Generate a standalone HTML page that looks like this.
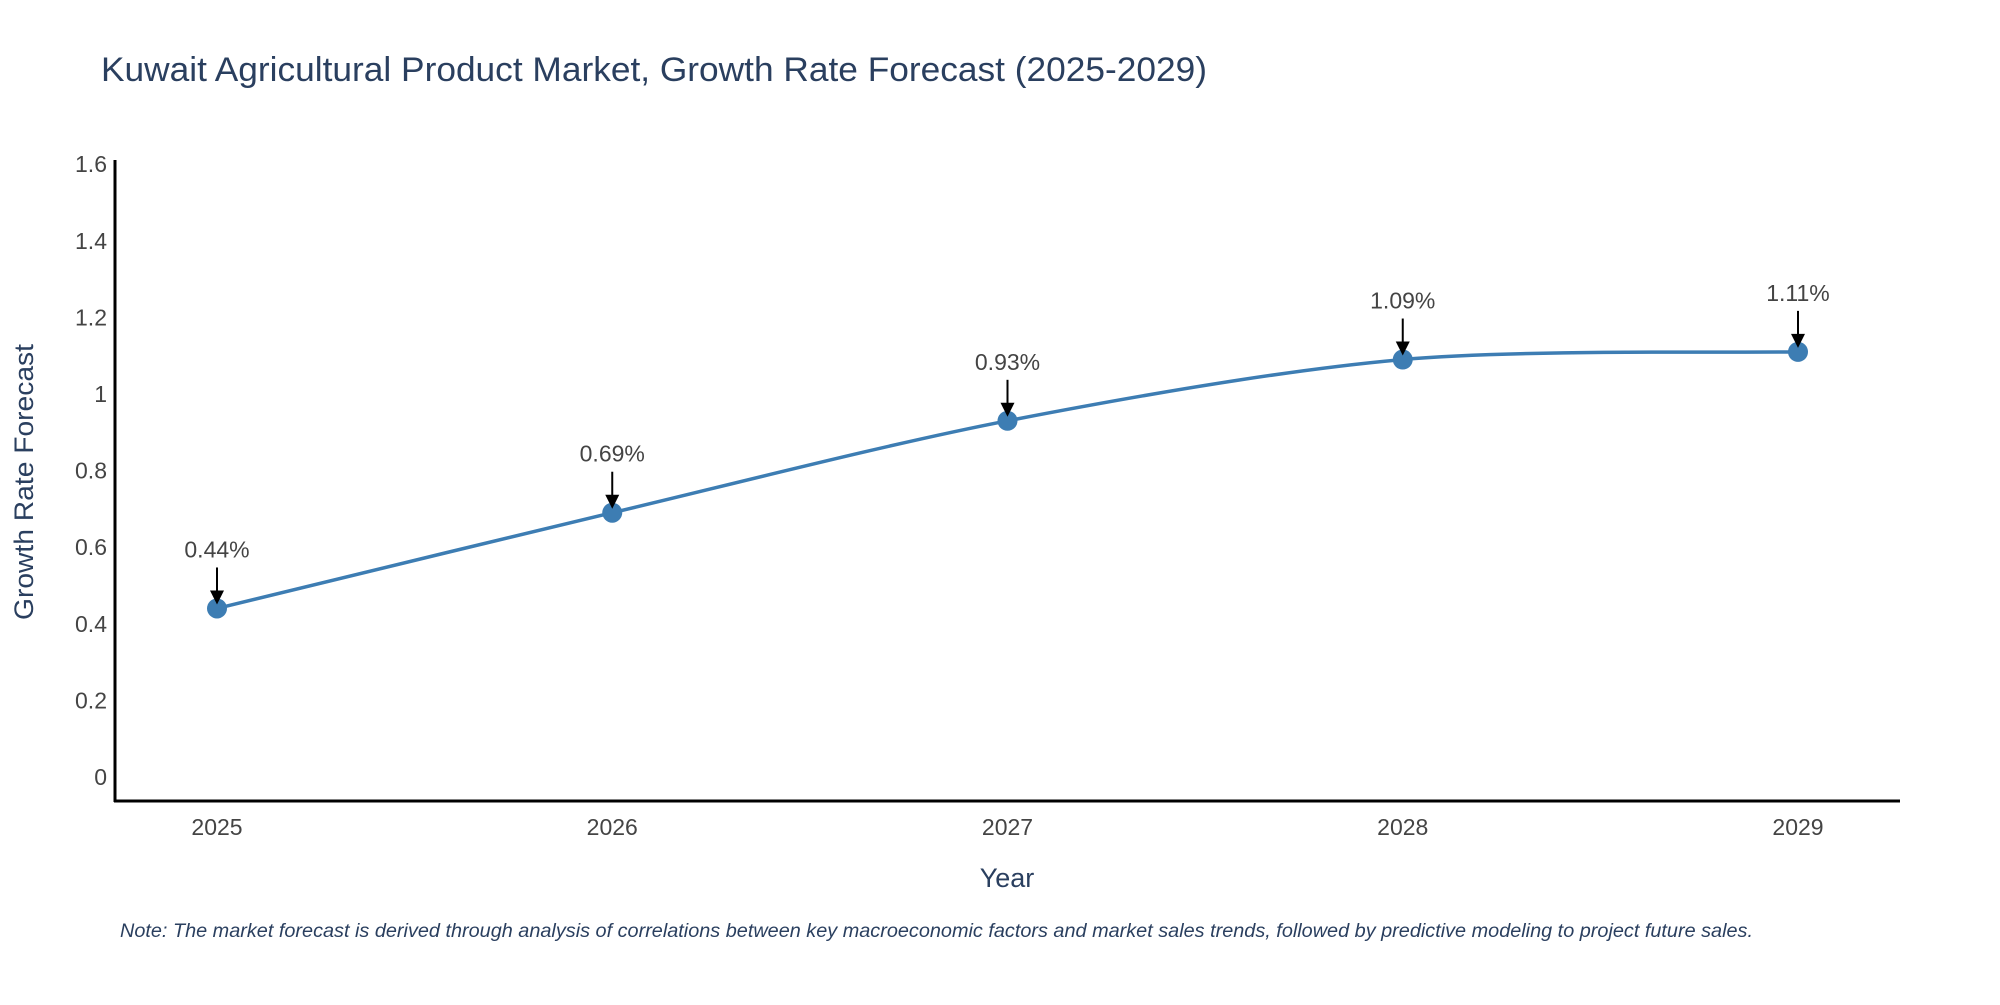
<!DOCTYPE html>
<html><head><meta charset="utf-8"><style>
body{margin:0;background:#fff;}
svg text{font-family:"Liberation Sans","DejaVu Sans",sans-serif;}
</style></head><body>
<svg width="2000" height="1000" viewBox="0 0 2000 1000" xmlns="http://www.w3.org/2000/svg">
<text x="101" y="81" font-size="34" fill="#2a3f5f" textLength="1106" lengthAdjust="spacingAndGlyphs">Kuwait Agricultural Product Market, Growth Rate Forecast (2025-2029)</text>
<g id="yticks"></g><g id="xticks"></g>
<line x1="115" y1="160" x2="115" y2="802" stroke="#000" stroke-width="3"/>
<line x1="114" y1="801" x2="1900" y2="801" stroke="#000" stroke-width="3"/>
<path id="line" fill="none" stroke="#3d7db3" stroke-width="3.5"/>
<g id="marks"></g>
<text x="26" y="482" font-size="27" fill="#2a3f5f" text-anchor="middle" textLength="276" lengthAdjust="spacingAndGlyphs" transform="rotate(-90 26 482)" dominant-baseline="middle">Growth Rate Forecast</text>
<text x="1007" y="887" font-size="27" fill="#2a3f5f" text-anchor="middle">Year</text>
<text x="120" y="937" font-size="19" font-style="italic" fill="#2a3f5f" textLength="1633" lengthAdjust="spacingAndGlyphs">Note: The market forecast is derived through analysis of correlations between key macroeconomic factors and market sales trends, followed by predictive modeling to project future sales.</text>
</svg>
<script>
const years=[2025,2026,2027,2028,2029];
const values=[0.44,0.69,0.93,1.09,1.11];
const labels=["0.44%","0.69%","0.93%","1.09%","1.11%"];
const yTicks=[0,0.2,0.4,0.6,0.8,1,1.2,1.4,1.6];
const ns="http://www.w3.org/2000/svg";
const X=y=>217+(y-2025)*(1798-217)/4;
const Y=v=>777-v*383;
function mk(t,a,p){const e=document.createElementNS(ns,t);for(const k in a)e.setAttribute(k,a[k]);p.appendChild(e);return e;}
const yt=document.getElementById('yticks');
yTicks.forEach(v=>{const t=mk('text',{x:107,y:Y(v)+8,'font-size':23,fill:'#444','text-anchor':'end'},yt);


t.textContent=String(v);});
const xt=document.getElementById('xticks');
years.forEach(y=>{const t=mk('text',{x:X(y),y:835,'font-size':23,fill:'#444','text-anchor':'middle'},xt);


t.textContent=String(y);});
const pts=years.map((y,i)=>[X(y),Y(values[i])]);
let d='M'+pts[0][0]+','+pts[0][1];
for(let i=0;i<pts.length-1;i++){const p0=pts[i-1]||pts[i],p1=pts[i],p2=pts[i+1],p3=pts[i+2]||p2;const s=0.15;
d+=` C${p1[0]+(p2[0]-p0[0])*s},${p1[1]+(p2[1]-p0[1])*s} ${p2[0]-(p3[0]-p1[0])*s},${p2[1]-(p3[1]-p1[1])*s} ${p2[0]},${p2[1]}`;}
document.getElementById('line').setAttribute('d',d);
const g=document.getElementById('marks');
pts.forEach((p,i)=>{
const c=mk('circle',{cx:p[0],cy:p[1],r:10,fill:'#3d7db3'},g);


const l=mk('line',{x1:p[0],y1:p[1]-41,x2:p[0],y2:p[1]-14,stroke:'#000','stroke-width':2},g);


const h=mk('path',{d:`M${p[0]-7},${p[1]-18} L${p[0]+7},${p[1]-18} L${p[0]},${p[1]-4} Z`,fill:'#000'},g);


const t=mk('text',{x:p[0],y:p[1]-51,'font-size':23,fill:'#444','text-anchor':'middle'},g);


t.textContent=labels[i];});
</script>
</body></html>
